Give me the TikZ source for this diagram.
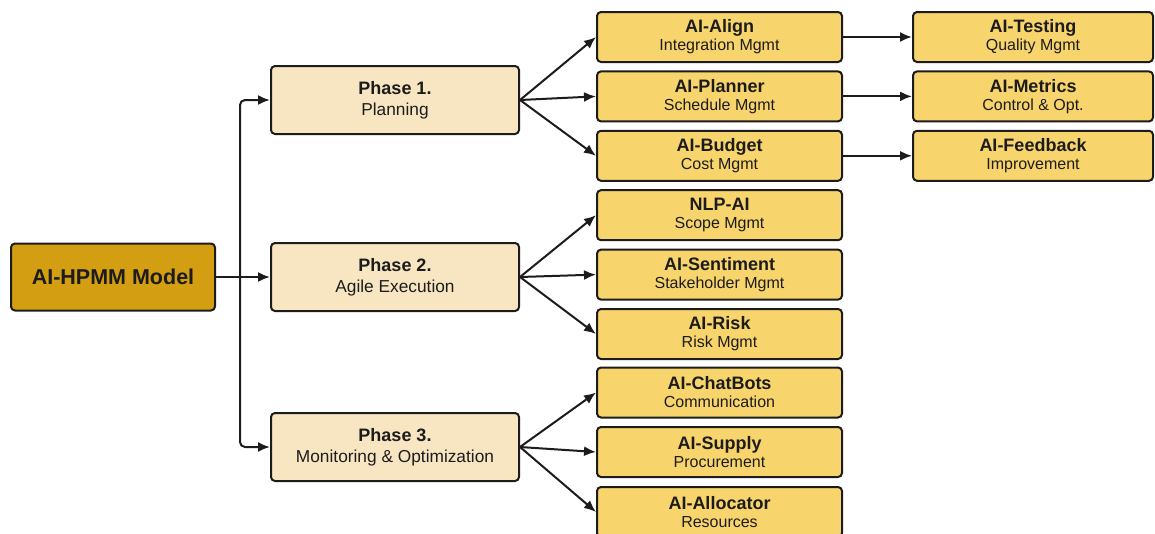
\documentclass[tikz,border=0pt]{standalone}
\usepackage{fontspec}
\setmainfont{Liberation Sans}
\usetikzlibrary{arrows.meta}
\definecolor{rootfill}{HTML}{D39E12}
\definecolor{phasefill}{HTML}{F8E6C3}
\definecolor{modfill}{HTML}{F8D46C}
\definecolor{ink}{HTML}{1C1C1C}
\newcommand\modtxt[2]{{\fontsize{18}{18}\selectfont\bfseries #1}\\#2}
\newcommand\phtxt[2]{{\fontsize{18}{21}\selectfont\bfseries #1}\\#2}
\tikzset{
  box/.style={draw=ink, line width=2pt, rounded corners=4pt, align=center, text=ink, inner sep=0pt},
  rootbox/.style={box, fill=rootfill, minimum width=204pt, minimum height=67pt, font=\fontsize{21.5}{24}\selectfont\bfseries},
  phasebox/.style={box, fill=phasefill, minimum width=248pt, minimum height=68pt, font=\fontsize{17.3}{21}\selectfont},
  modbox/.style={box, fill=modfill, minimum width=245pt, minimum height=50pt, font=\fontsize{16}{18}\selectfont},
  modboxb/.style={modbox, minimum width=240pt},
  arr/.style={draw=ink, line width=2pt, -{Latex[length=12pt,width=10pt]}},
}
\begin{document}
\begin{tikzpicture}[x=1pt,y=-1pt]
\fill[white] (0,0) rectangle (1155,533);
\useasboundingbox (0,0) rectangle (1155,533);
% root
\node[rootbox] (root) at (113,277) {AI-HPMM Model};
% phases
\node[phasebox] (p1) at (395,100) {\phtxt{Phase 1.}{Planning}};
\node[phasebox] (p2) at (395,277) {\phtxt{Phase 2.}{Agile Execution}};
\node[phasebox] (p3) at (395,447) {\phtxt{Phase 3.}{Monitoring \& Optimization}};
% modules column 1
\node[modbox] (m1) at (719.5,37)    {\modtxt{AI-Align}{Integration Mgmt}};
\node[modbox] (m2) at (719.5,96.4)  {\modtxt{AI-Planner}{Schedule Mgmt}};
\node[modbox] (m3) at (719.5,155.8) {\modtxt{AI-Budget}{Cost Mgmt}};
\node[modbox] (m4) at (719.5,215.2) {\modtxt{NLP-AI}{Scope Mgmt}};
\node[modbox] (m5) at (719.5,274.6) {\modtxt{AI-Sentiment}{Stakeholder Mgmt}};
\node[modbox] (m6) at (719.5,334)   {\modtxt{AI-Risk}{Risk Mgmt}};
\node[modbox] (m7) at (719.5,392.5) {\modtxt{AI-ChatBots}{Communication}};
\node[modbox] (m8) at (719.5,452)   {\modtxt{AI-Supply}{Procurement}};
\node[modbox] (m9) at (719.5,512)   {\modtxt{AI-Allocator}{Resources}};
% modules column 2
\node[modboxb] (n1) at (1033,37)    {\modtxt{AI-Testing}{Quality Mgmt}};
\node[modboxb] (n2) at (1033,96.4)  {\modtxt{AI-Metrics}{Control \& Opt.}};
\node[modboxb] (n3) at (1033,155.8) {\modtxt{AI-Feedback}{Improvement}};
% trunk
\coordinate (tr) at (240,277);
\draw[arr] (root) -- (p2);
\draw[arr, rounded corners=5pt] (tr) |- (p1.west);
\draw[arr, rounded corners=5pt] (tr) |- (p3.west);
% fans
\foreach \p/\a/\b/\c in {p1/m1/m2/m3, p2/m4/m5/m6, p3/m7/m8/m9}{
  \draw[arr] (\p.east) -- (\a.west);
  \draw[arr] (\p.east) -- (\b.west);
  \draw[arr] (\p.east) -- (\c.west);
}
\draw[arr] (m1) -- (n1);
\draw[arr] (m2) -- (n2);
\draw[arr] (m3) -- (n3);
\end{tikzpicture}
\end{document}
